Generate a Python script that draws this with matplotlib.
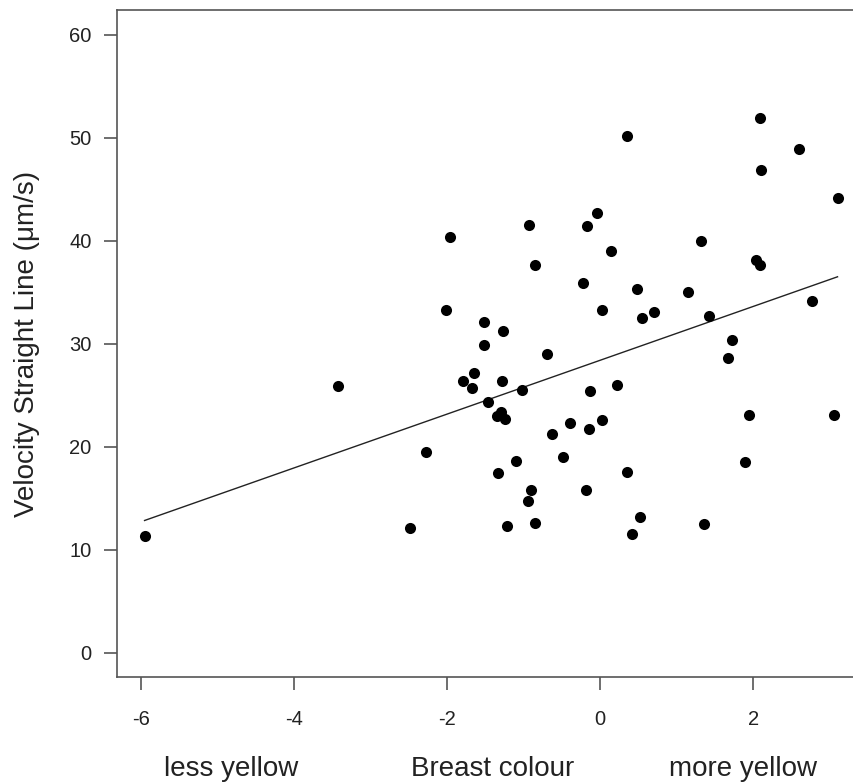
import numpy as np
import matplotlib
matplotlib.use("Agg")
import matplotlib.pyplot as plt

plt.rcParams['font.family'] = ['Liberation Sans', 'DejaVu Sans']

# breast colour score (x) and velocity straight line (y)
breast_colour = [-5.95, -3.42, -2.49, -2.28, -2.01, -1.96, -1.79, -1.67, -1.65, -1.52,
                 -1.52, -1.47, -1.33, -1.35, -1.30, -1.28, -1.27, -1.24, -1.22, -1.10,
                 -1.02, -0.94, -0.90, -0.93, -0.85, -0.85, -0.70, -0.63, -0.49, -0.40,
                 -0.23, -0.18, -0.17, -0.14, -0.13, -0.04, 0.02, 0.03, 0.14, 0.22,
                 0.35, 0.35, 0.41, 0.48, 0.52, 0.55, 0.70, 1.15, 1.32, 1.35,
                 1.42, 1.67, 1.72, 1.89, 1.94, 2.03, 2.09, 2.09, 2.10, 2.60,
                 2.76, 3.05, 3.10]
vsl = [11.3, 25.9, 12.1, 19.5, 33.3, 40.4, 26.4, 25.7, 27.2, 32.1,
       29.9, 24.3, 17.4, 23.0, 23.4, 26.4, 31.2, 22.7, 12.3, 18.6,
       25.5, 14.7, 15.8, 41.5, 37.6, 12.6, 29.0, 21.2, 19.0, 22.3,
       35.9, 15.8, 41.4, 21.7, 25.4, 42.7, 22.6, 33.3, 39.0, 26.0,
       50.2, 17.5, 11.5, 35.3, 13.2, 32.5, 33.1, 35.0, 40.0, 12.5,
       32.7, 28.6, 30.4, 18.5, 23.1, 38.1, 37.6, 51.9, 46.9, 48.9,
       34.1, 23.1, 44.2]

# fitted regression line
fit_intercept = 28.39
fit_slope = 2.616

x_ticks = [-6, -4, -2, 0, 2]
y_ticks = [0, 10, 20, 30, 40, 50, 60]
bottom_labels = ['less yellow', 'Breast colour', 'more yellow']
bottom_label_x = [-4.82, -1.41, 1.87]

fig = plt.figure(figsize=(8.54, 7.82), dpi=100)
ax = fig.add_axes([0.137, 0.134, 0.876, 0.853])

ax.scatter(breast_colour, vsl, s=64, color='black', zorder=3, linewidths=0)

xs = np.array([min(breast_colour), max(breast_colour)])
ax.plot(xs, fit_intercept + fit_slope * xs, color='#222222', lw=1.0)

ax.set_xlim(-6.31, 3.46)
ax.set_ylim(-2.4, 62.4)
ax.set_xticks(x_ticks)
ax.set_yticks(y_ticks)
ax.set_xticklabels([str(t) for t in x_ticks])

for s in ax.spines.values():
    s.set_color('#555555')
    s.set_linewidth(1.2)
ax.spines['right'].set_visible(False)

ax.tick_params(axis='both', colors='#555555', labelcolor='#222222',
               labelsize=14.5, length=9.4, width=1.2, direction='out')
ax.tick_params(axis='x', pad=14)
ax.tick_params(axis='y', pad=9)

ax.set_ylabel('Velocity Straight Line (\u03bcm/s)', fontsize=20, color='#222222', labelpad=21)

for lab, xp in zip(bottom_labels, bottom_label_x):
    ax.text(xp, -0.137, lab, transform=ax.get_xaxis_transform(), ha='center', va='center',
            fontsize=20, color='#222222')

fig.savefig('out.png', dpi=100)
